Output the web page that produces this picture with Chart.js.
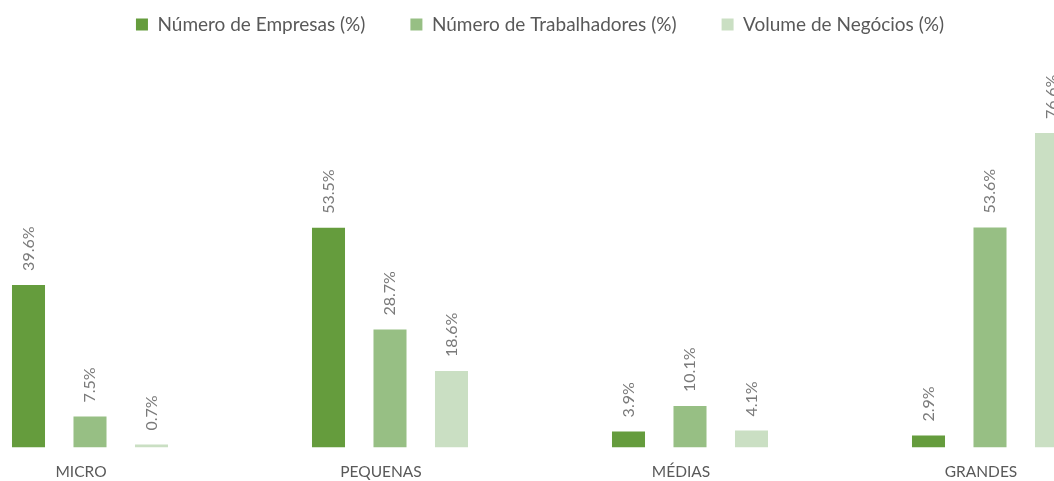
<!DOCTYPE html>
<html>
<head>
<meta charset="utf-8">
<script src="https://cdn.jsdelivr.net/npm/chart.js@4"></script>
<style>
  html, body { margin: 0; padding: 0; background: #fff; overflow: hidden; }
  #wrap { position: relative; width: 1054px; height: 481px; overflow: hidden; }
  #chart { position: absolute; left: -60px; top: 0; }
</style>
</head>
<body>
<div id="wrap"><canvas id="chart" width="1200" height="481"></canvas></div>
<script>
'use strict';

const categories = ['MICRO', 'PEQUENAS', 'MÉDIAS', 'GRANDES'];
const seriesNames = ['Número de Empresas (%)', 'Número de Trabalhadores (%)', 'Volume de Negócios (%)'];
const empresas = [39.6, 53.5, 3.9, 2.9];
const trabalhadores = [7.5, 28.7, 10.1, 53.6];
const negocios = [0.7, 18.6, 4.1, 76.6];
const seriesColors = ['#659c3d', '#97bf84', '#cadfc3'];

const FONT = 'Lato, "Open Sans", sans-serif';

// rotated value labels above each bar
const valueLabels = {
  id: 'valueLabels',
  afterDatasetsDraw(chart) {
    const ctx = chart.ctx;
    ctx.save();
    ctx.font = '16px ' + FONT;
    ctx.fillStyle = '#7a7a7a';
    ctx.textAlign = 'left';
    ctx.textBaseline = 'middle';
    chart.data.datasets.forEach((ds, i) => {
      chart.getDatasetMeta(i).data.forEach((bar, j) => {
        ctx.save();
        ctx.translate(bar.x, bar.y - 14);
        ctx.rotate(-Math.PI / 2);
        ctx.fillText(ds.data[j].toFixed(1) + '%', 0, 0);
        ctx.restore();
      });
    });
    ctx.restore();
  }
};

// keep the legend band a fixed height
const legendHeight = {
  id: 'legendHeight',
  beforeInit(chart) {
    const fit = chart.legend.fit;
    chart.legend.fit = function () {
      fit.bind(chart.legend)();
      this.height = 67;
    };
  }
};

new Chart(document.getElementById('chart').getContext('2d'), {
  type: 'bar',
  data: {
    labels: categories,
    datasets: [empresas, trabalhadores, negocios].map((d, i) => ({
      label: seriesNames[i],
      data: d,
      backgroundColor: seriesColors[i],
      categoryPercentage: 0.615,
      barPercentage: 0.537,
    })),
  },
  options: {
    responsive: false,
    animation: false,
    layout: { padding: { top: -30, left: 0, right: 0, bottom: -15 } },
    plugins: {
      tooltip: { enabled: false },
      legend: {
        position: 'top',
        labels: {
          boxWidth: 12,
          boxHeight: 12,
          padding: 45,
          color: '#595959',
          font: { family: FONT, size: 19 },
        },
      },
    },
    scales: {
      x: {
        grid: { display: false, drawTicks: false },
        border: { display: false },
        ticks: {
          color: '#595959',
          font: { family: FONT, size: 15.5 },
          padding: 15,
          labelOffset: -9,
        },
      },
      y: {
        display: false,
        min: 0,
        max: 100,
      },
    },
  },
  plugins: [valueLabels, legendHeight],
});
</script>
</body>
</html>
